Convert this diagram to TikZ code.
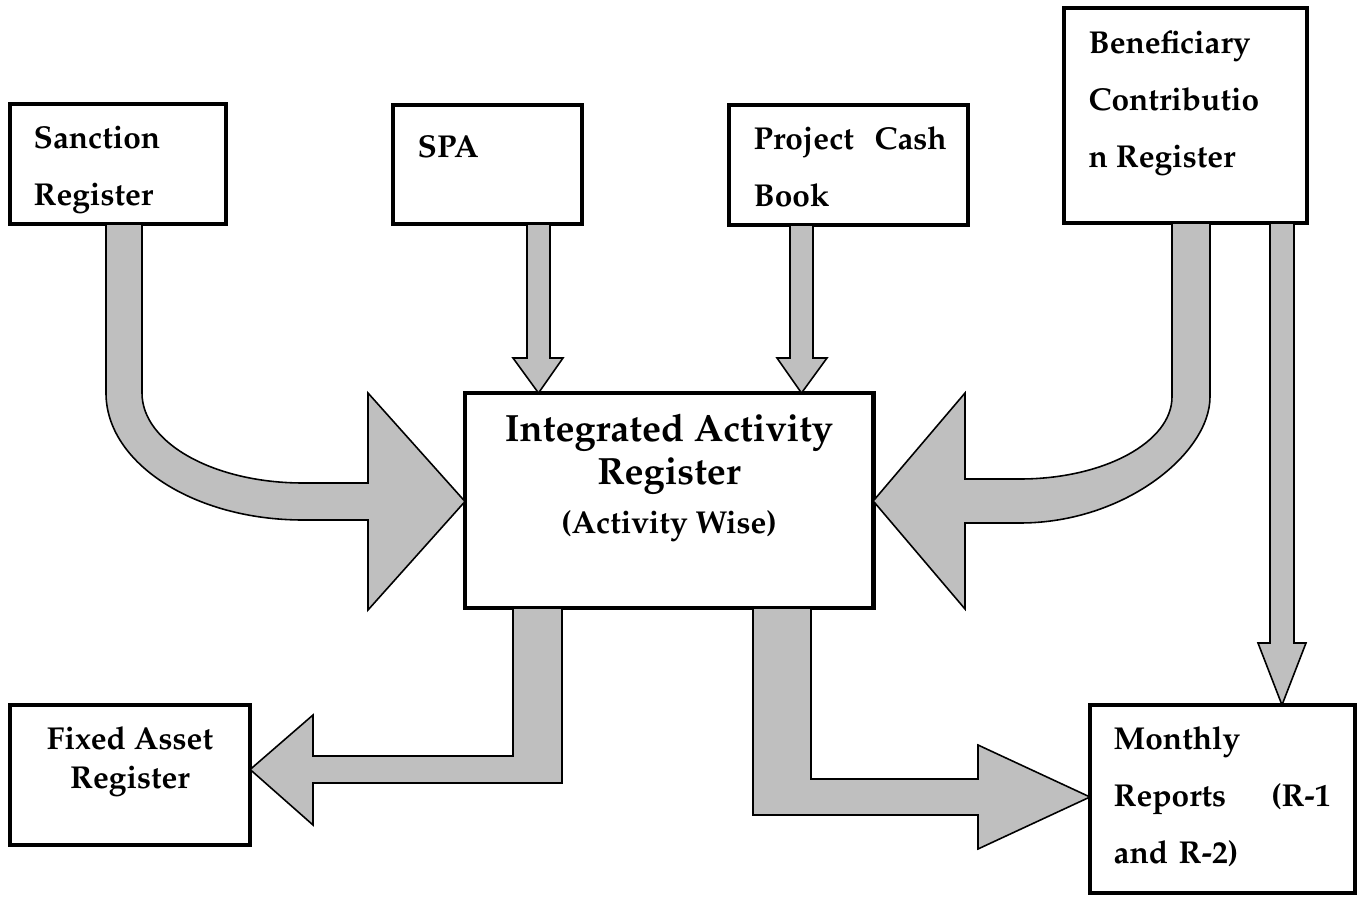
\documentclass[tikz,border=0pt]{standalone}
\usepackage[T1]{fontenc}
\usepackage{mathpazo}
\begin{document}
\begin{tikzpicture}[x=0.01cm,y=-0.01cm]
	\tikzstyle{reg}=[rectangle,draw=black,line width=1.3pt,fill=white,inner sep=0,outer sep=0,anchor=north west]
	\tikzstyle{txt}=[inner sep=0,anchor=north west,align=left,font=\bfseries\fontsize{9}{16.2}\selectfont]
	\tikzstyle{flow}=[draw=black,line width=0.45pt,fill=black!25,line join=miter]
	\useasboundingbox (0,0) rectangle (1362,897);

	% registers
	\node[reg,minimum width=2.16cm,minimum height=1.2cm]  (sanction)   at (10,104)   {};
	\node[reg,minimum width=1.89cm,minimum height=1.19cm] (spa)        at (393,105)  {};
	\node[reg,minimum width=2.39cm,minimum height=1.2cm]  (cashbook)   at (729,105)  {};
	\node[reg,minimum width=2.43cm,minimum height=2.15cm] (benef)      at (1064,8)   {};
	\node[reg,minimum width=4.08cm,minimum height=2.15cm] (iar)        at (465,393)  {};
	\node[reg,minimum width=2.4cm,minimum height=1.4cm]   (fixedasset) at (10,705)   {};
	\node[reg,minimum width=2.65cm,minimum height=1.88cm] (monthly)    at (1090,705) {};

	\node[txt] (sanctiontxt) at (33,126) {Sanction\\Register};
	\node[txt] (spatxt) at (417,135) {SPA};
	\node[txt,text width=1.93cm] (cashbooktxt) at (753,126) {Project\hfill Cash\\Book};
	\node[txt] (beneftxt) at (1088,30) {Beneficiary\\Contributio\\n Register};
	\node[txt,text width=2.17cm] (monthlytxt) at (1113,726) {Monthly\\Reports\hfill(R-1\\and R-2)};
	\node[txt,anchor=north,align=center,font=\bfseries\fontsize{9}{11.1}\selectfont] (fixedassettxt) at (130,726) {Fixed Asset\\Register};
	\node[txt,anchor=north,align=center,font=\bfseries\fontsize{10.8}{12.4}\selectfont] (iartxt) at (669,413)
		{Integrated Activity\\Register\\[1.5pt]\fontsize{9}{11}\selectfont (Activity Wise)};

	% straight arrows
	\draw[flow] (spa.south -| 527,0) -- (527,358) -- (513,358) -- (iar.north -| 538.5,0)
		-- (563,358) -- (550,358) -- (spa.south -| 550,0) -- cycle;
	\draw[flow] (cashbook.south -| 790,0) -- (790,358) -- (777,358) -- (iar.north -| 801.5,0)
		-- (827,358) -- (813,358) -- (cashbook.south -| 813,0) -- cycle;
	\draw[flow] (benef.south -| 1270,0) -- (1270,643) -- (1258,643) -- (monthly.north -| 1282,0)
		-- (1306,643) -- (1294,643) -- (benef.south -| 1294,0) -- cycle;

	% curved arrows
	\draw[flow] (sanction.south -| 106,0) -- (106,393) .. controls (106,463) and (194,520) .. (303,520)
		-- (368,520) -- (368,610) -- (iar.west |- 0,501.5) -- (368,393) -- (368,483) -- (303,483)
		.. controls (214,483) and (142,443) .. (142,393) -- (sanction.south -| 142,0) -- cycle;
	\draw[flow] (benef.south -| 1172,0) -- (1172,397) .. controls (1172,442) and (1104,479) .. (1020,479)
		-- (965,479) -- (965,393) -- (iar.east |- 0,501) -- (965,609) -- (965,523) -- (1020,523)
		.. controls (1125,523) and (1210,453) .. (1210,397) -- (benef.south -| 1210,0) -- cycle;

	% bent arrows
	\draw[flow] (iar.south -| 513,0) -- (513,756) -- (313,756) -- (313,715) -- (fixedasset.east |- 0,769.5)
		-- (313,825) -- (313,783) -- (562,783) -- (iar.south -| 562,0) -- cycle;
	\draw[flow] (iar.south -| 753,0) -- (753,815) -- (978,815) -- (978,849) -- (monthly.west |- 0,797)
		-- (978,745) -- (978,779) -- (811,779) -- (iar.south -| 811,0) -- cycle;
\end{tikzpicture}
\end{document}
